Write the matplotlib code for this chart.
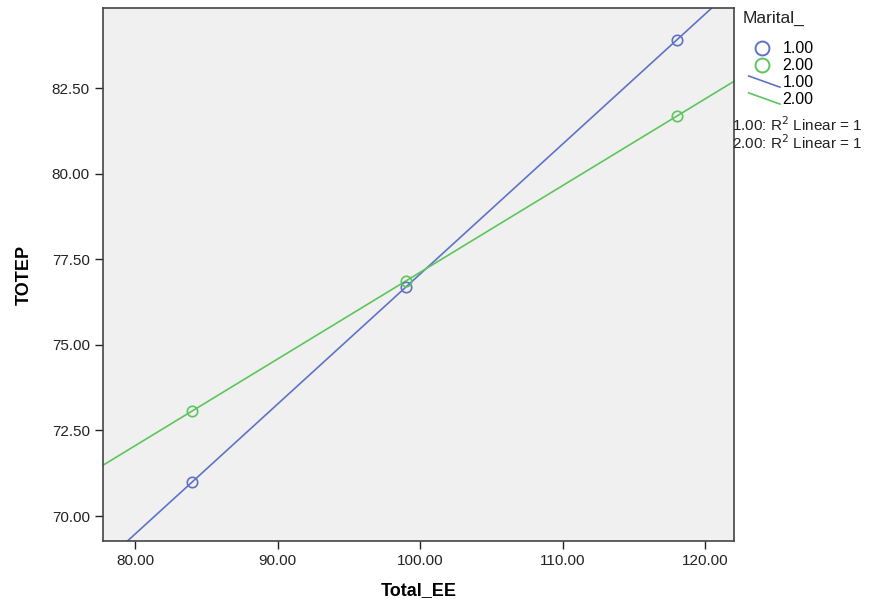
import numpy as np
import matplotlib
matplotlib.use('Agg')
import matplotlib.pyplot as plt
from matplotlib.legend_handler import HandlerLine2D
from matplotlib.lines import Line2D

# data
total_ee = [84.0, 99.0, 118.0]
totep_1 = [70.99, 76.69, 83.90]
totep_2 = [73.07, 76.86, 81.68]
groups = ['1.00', '2.00']
blue = '#5f73c6'
green = '#5cc65c'

plt.rcParams['font.family'] = ['Liberation Sans', 'DejaVu Sans']

fig = plt.figure(figsize=(8.76, 5.99), dpi=100)
ax = fig.add_axes([0.1176, 0.0968, 0.7204, 0.8898])
ax.set_facecolor('#f0f0f0')

xlim = (77.75, 122.04)
ylim = (69.27, 84.84)
xx = np.array(xlim)

for ys, col in [(totep_1, blue), (totep_2, green)]:
    m, b = np.polyfit(total_ee, ys, 1)
    ax.plot(xx, m * xx + b, color=col, lw=1.2, zorder=2)
    ax.plot(total_ee, ys, 'o', mfc='none', mec=col, ms=7.5, mew=1.2, zorder=3)

ax.set_xlim(xlim)
ax.set_ylim(ylim)
ax.set_xticks([80, 90, 100, 110, 120])
ax.set_yticks([70, 72.5, 75, 77.5, 80, 82.5])
ax.xaxis.set_major_formatter(plt.FuncFormatter(lambda v, p: '%.2f' % v))
ax.yaxis.set_major_formatter(plt.FuncFormatter(lambda v, p: '%.2f' % v))
ax.tick_params(labelsize=11, colors='#222222', length=6, width=1)
for s in ax.spines.values():
    s.set_color('#444444')
    s.set_linewidth(1.2)
ax.set_xlabel('Total_EE', fontsize=13, fontweight='bold', labelpad=10)
ax.set_ylabel('TOTEP', fontsize=13, fontweight='bold', labelpad=14)


class DiagHandler(HandlerLine2D):
    def create_artists(self, legend, orig, xd, yd, w, h, fs, trans):
        ln = Line2D([xd + 0.15 * w, xd + w], [yd + h, yd], color=orig.get_color(),
                    lw=orig.get_linewidth(), transform=trans)
        return [ln]


h1 = Line2D([], [], ls='none', marker='o', mfc='none', mec=blue, ms=10, mew=1.4)
h2 = Line2D([], [], ls='none', marker='o', mfc='none', mec=green, ms=10, mew=1.4)
h3 = Line2D([], [], color=blue, lw=1.2)
h4 = Line2D([], [], color=green, lw=1.2)
leg = fig.legend([h1, h2, h3, h4], groups + groups,
                 loc='upper left', bbox_to_anchor=(0.832, 0.955),
                 frameon=False, fontsize=11.5,
                 handlelength=2.3, handletextpad=0.15, labelspacing=0.12,
                 handler_map={h3: DiagHandler(), h4: DiagHandler()})

fig.text(743 / 876, 1 - 18 / 599, 'Marital_', fontsize=12.5, color='#222222', va='center')
fig.text(0.836, 0.781, '1.00: R$^2$ Linear = 1', fontsize=11, color='#222222')
fig.text(0.836, 0.751, '2.00: R$^2$ Linear = 1', fontsize=11, color='#222222')

fig.savefig('out.png', dpi=100, facecolor='white')
